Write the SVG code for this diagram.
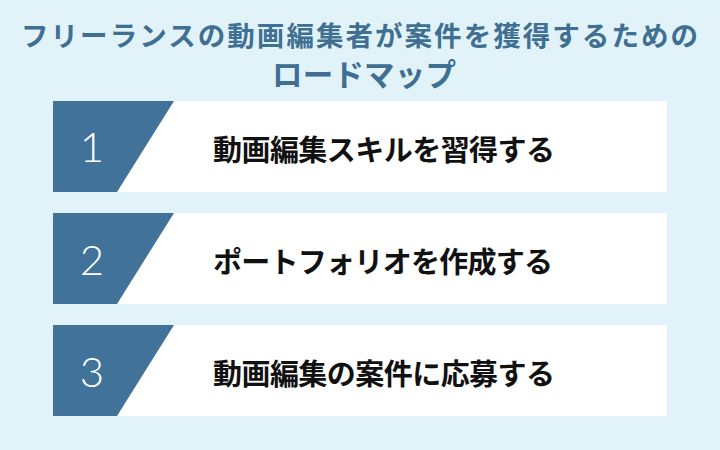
<svg xmlns="http://www.w3.org/2000/svg" width="720" height="450" viewBox="0 0 720 450">
<style>
.title{font-family:"Noto Sans CJK JP","Noto Sans",sans-serif;font-weight:700;fill:#3f6f92}
.card{fill:#ffffff}
.tab{fill:#41729a}
.num{font-family:"Lato","Open Sans",sans-serif;font-weight:300;font-size:42px;fill:#ffffff;text-anchor:middle}
.label{font-family:"Noto Sans CJK JP","Noto Sans",sans-serif;font-weight:700;font-size:29px;fill:#111111}
</style>
<rect x="0" y="0" width="720" height="450" fill="#e1f3f9"/>
<g id="title">
<text class="title" x="21" y="46" font-size="27.5" textLength="677" lengthAdjust="spacing">フリーランスの動画編集者が案件を獲得するための</text>
<text class="title" x="272" y="86" font-size="30.5" textLength="184" lengthAdjust="spacing">ロードマップ</text>
</g>
<g id="step1">
<rect class="card" x="53" y="101" width="614" height="91"/>
<polygon class="tab" points="53,101 174,101 117,192 53,192"/>
<text class="num" x="92" y="162">1</text>
<text class="label" x="213" y="161" textLength="342" lengthAdjust="spacing">動画編集スキルを習得する</text>
</g>
<g id="step2">
<rect class="card" x="53" y="213" width="614" height="91"/>
<polygon class="tab" points="53,213 174,213 117,304 53,304"/>
<text class="num" x="92" y="274.5">2</text>
<text class="label" x="213" y="273" textLength="340" lengthAdjust="spacing">ポートフォリオを作成する</text>
</g>
<g id="step3">
<rect class="card" x="53" y="325" width="614" height="91"/>
<polygon class="tab" points="53,325 174,325 117,416 53,416"/>
<text class="num" x="92" y="386.5">3</text>
<text class="label" x="213" y="385" textLength="342" lengthAdjust="spacing">動画編集の案件に応募する</text>
</g>
<g id="connectors"></g>
</svg>
